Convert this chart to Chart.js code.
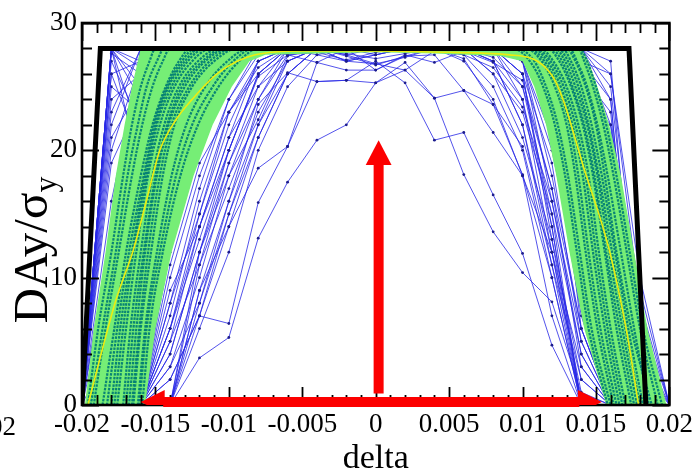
<!DOCTYPE html>
<html>
<head>
<meta charset="utf-8">
<script src="https://cdn.jsdelivr.net/npm/chart.js@4.4.1/dist/chart.umd.min.js"></script>
<style>
  html, body { margin: 0; padding: 0; background: #ffffff; }
  #wrap { width: 697px; height: 471px; }
</style>
</head>
<body>
<div id="wrap"><canvas id="c" width="697" height="471"></canvas></div>
<script>
const _ = null;

// Momentum deviations at which every tracked seed was evaluated
const deltaGrid = [-0.020, -0.018, -0.016, -0.014, -0.012, -0.010, -0.008, -0.006, -0.004, -0.002, 0.000,
                    0.002,  0.004,  0.006,  0.008,  0.010,  0.012,  0.014,  0.016,  0.018, 0.020];

// Dynamic aperture (in sigma_y) per seed, one value per deltaGrid entry
const edgeRuns = [
  [0, 28, 28, 28, 28, 28, 28, 28, 28, 28, 28, 28, 28, 28, 28, 28, 28, 28, 24, 0, _],
  [0, 28, 24, 28, 28, 28, 28, 28, 28, 27.6, 27.2, 27.6, 28, 28, 28, 28, 28, 28, 20, 0, _],
  [0, 27.6, 26, 28, 28, 28, 28, 28, 28, 28, 27.5, 28, 28, 28, 28, 28, 28, 27, 26, 10, 0],
  [0, 28, 21, 27, 28, 28, 28, 28, 27.5, 27, 26.8, 27.3, 28, 28, 28, 28, 28, 28, 16, 0, _],
  [0, 26, 27, 28, 28, 28, 28, 28, 28, 28, 28, 28, 28, 28, 28, 28, 28, 25, 22, 9, 0],
  [0, 28, 18, 25, 28, 28, 28, 28, 28, 27.5, 28, 28, 28, 28, 28, 28, 28, 28, 12, 0, _],
  [0, 22, 28, 28, 28, 28, 28, 28, 28, 28, 28, 28, 28, 28, 28, 28, 28, 28, 27, 0, _],
  [0, 28, 26.5, 28, 28, 28, 28, 27.5, 28, 28, 28, 28, 28, 28, 28, 28, 28, 26, 18, 5, 0],
  [0, 24, 26, 28, 28, 28, 28, 28, 28, 28, 28, 28, 28, 28, 28, 28, 28, 28, 25, 4, 0],
  [0, 27, 22, 28, 28, 28, 28, 28, 28, 28, 28, 28, 28, 28, 28, 28, 28, 27, 14, 0, _],
  [0, 28, 25, 27, 28, 28, 28, 28, 28, 28, 28, 28, 28, 28, 28, 28, 28, 28, 21, 7, 0],
  [0, 20, 27, 28, 28, 28, 28, 28, 28, 28, 28, 28, 28, 28, 28, 28, 28, 28, 19, 0, _],
  [0, 28, 27, 28, 28, 28, 28, 28, 28, 28, 28, 28, 28, 28, 28, 28, 28, 26, 23, 0, _],
  [0, 26, 20, 26, 28, 28, 28, 28, 28, 28, 28, 28, 28, 28, 28, 28, 28, 27, 17, 0, _],
  [0, 16, 27, 28, 28, 28, 28, 28, 28, 28, 28, 28, 28, 28, 28, 28, 28, 28, 22, 0, _],
  [0, 19, 24, 28, 28, 28, 28, 28, 28, 28, 28, 28, 28, 28, 28, 28, 28, 27, 15, 0, _],
  [0, 23, 28, 28, 28, 28, 28, 28, 28, 28, 28, 28, 28, 28, 28, 28, 28, 28, 26, 8, 0],
  [0, 13, 26, 28, 28, 28, 28, 28, 28, 28, 28, 28, 28, 28, 28, 28, 28, 26, 11, 0, _],
  [0, 25, 23, 28, 28, 28, 28, 28, 28, 28, 28, 28, 28, 28, 28, 28, 28, 28, 20, 3, 0],
  [0, 21, 25, 27, 28, 28, 28, 28, 28, 28, 28, 28, 28, 28, 28, 28, 28, 27, 24, 0, _]
];
const steepRuns = [
  [_, 0, 28, 28, 28, 28, 28, 28, 28, 28, 28, 28, 28, 28, 28, 28, 28, 28, 0, _, _],
  [_, 0, 26, 28, 28, 28, 28, 28, 28, 27, 27.5, 28, 28, 28, 28, 28, 28, 27, 3, 0, _],
  [_, 0, 15, 27, 28, 28, 28, 28, 28, 28, 28, 28, 28, 28, 28, 28, 28, 24, 0, _, _],
  [_, 0, 28, 27, 28, 28, 28, 28, 28, 28, 28, 28, 28, 28, 28, 28, 27, 20, 0, _, _],
  [0, 10, 28, 28, 28, 28, 28, 28, 28, 28, 28, 28, 28, 28, 28, 28, 28, 16, 0, _, _],
  [0, 5, 23, 28, 28, 28, 28, 28, 28, 28, 28, 28, 28, 28, 28, 28, 26, 10, 0, _, _],
  [_, 0, 27, 28, 28, 28, 28, 28, 28, 28, 28, 28, 28, 28, 28, 28, 28, 26, 0, _, _],
  [_, 0, 22, 28, 28, 28, 28, 28, 28, 28, 28, 28, 28, 28, 28, 28, 27, 22, 0, _, _],
  [_, 0, 10, 24, 28, 28, 28, 28, 28, 28, 28, 28, 28, 28, 28, 28, 28, 28, 13, 0, _],
  [0, 14, 28, 28, 28, 28, 28, 28, 28, 28, 28, 28, 28, 28, 28, 28, 25, 6, 0, _, _]
];
const slopeRuns = [
  [_, _, 0, 8, 15, 22, 27, 28, 28, 28, 28, 28, 28, 28, 28, 27, 16, 4, 0, _, _],
  [_, _, 0, 6, 13, 20, 26, 28, 28, 27, 27.5, 28, 28, 28, 28, 26, 14, 0, _, _, _],
  [_, _, 0, 10, 18, 24, 27.5, 28, 28, 28, 28, 28, 28, 28, 27, 24, 12, 0, _, _, _],
  [_, _, 0, 5, 11, 17, 23, 27, 28, 28, 28, 28, 28, 28, 26, 21, 13, 2, 0, _, _],
  [_, _, _, 0, 9, 16, 22, 26, 28, 28, 28, 28, 28, 27.5, 25, 20, 10, 0, _, _, _],
  [_, _, 0, 4, 12, 19, 25, 28, 28, 27.4, 26.7, 27.4, 28, 28, 28, 27, 18, 6, 0, _, _],
  [_, _, 0, 2, 7, 14, 21, 26, 28, 28, 28, 28, 28, 28, 28, 28, 22, 8, 0, _, _],
  [_, _, _, 0, 6, 12, 20, 25, 27.5, 28, 28, 28, 28, 27, 24, 18, 7, 0, _, _, _],
  [_, _, 0, 12, 20, 25, 28, 28, 28, 28, 28, 28, 28, 28, 28, 28, 24, 11, 0, _, _],
  [_, _, 0, 9, 14, 21, 25, 27, 28, 28, 28, 28, 28, 28, 27.3, 25, 15, 0, _, _, _],
  [_, _, 0, 3, 10, 18, 24, 28, 28, 28, 28, 28, 28, 28, 28, 26, 19, 5, 0, _, _],
  [_, _, 0, 7, 16, 23, 26.5, 28, 28, 28, 28, 28, 28, 28, 28, 27, 20, 9, 0, _, _],
  [_, _, 0, 11, 19, 23, 26, 28, 28, 28, 28, 28, 28, 28, 27, 22, 11, 0, _, _, _],
  [_, _, 0, 5, 14, 21, 27, 28, 28, 28, 28, 28, 28, 28, 28, 25, 17, 3, 0, _, _],
  [_, _, _, 0, 12, 20, 26, 28, 28, 28, 28, 28, 28, 28, 28, 26, 13, 0, _, _, _],
  [_, _, 0, 8, 17, 24, 28, 28, 28, 28, 28, 28, 28, 28, 26, 23, 15, 4, 0, _, _],
  [_, _, 0, 3, 8, 15, 22, 27, 28, 28, 28, 28, 28, 28, 28, 27, 21, 7, 0, _, _],
  [_, _, 0, 13, 21, 26, 28, 28, 28, 28, 28, 28, 28, 28, 28, 27.5, 23, 9, 0, _, _],
  [_, _, _, 0, 7, 15, 21, 26, 28, 28, 28, 28, 28, 28, 27, 22, 12, 1, 0, _, _],
  [_, _, 0, 6, 15, 23, 27, 28, 28, 28, 28, 28, 28, 28, 28, 24, 14, 0, _, _, _]
];
const innerRuns = [
  [_, _, _, 0, 3.7, 5.3, 13.1, 17.5, 20.8, 22.0, 25.3, 26.3, 24.1, 18.1, 13.6, 10.4, 8.1, 0.9, 0, _, _],
  [_, _, 0, 2, 7.0, 6.4, 15.9, 20.3, 25.4, 25.5, 27.0, 25.3, 20.8, 21.4, 16.5, 11.9, 4.7, 0, _, _, _],
  [_, _, _, 0, 9, 14, 18.6, 20.3, 26.9, 26.3, 26.3, 27.4, 27.5, 24.7, 23.6, 20.3, 11, 2, 0, _, _],
  [_, _, 0, 4, 12, 18, 22.4, 27.4, 28, 27.5, 26.8, 26.3, 27.8, 27.5, 26.5, 23.4, 16, 5, 0, _, _],
  [_, _, _, 0, 8, 16, 23.6, 26.1, 25.4, 25.5, 25.3, 26.9, 24.1, 24.7, 21.4, 18, 12, 3, 0, _, _],
  [_, _, 0, 6, 14, 20, 25.8, 27.5, 26.9, 28, 26.3, 27.5, 26.9, 27.8, 26.9, 25.5, 17, 6, 0, _, _],
  [_, _, _, 0, 11, 19, 24, 27.5, 27.7, 27.1, 27.7, 28, 28, 27.2, 23.6, 18.1, 10, 0, _, _, _]
];

// Band of the smooth aperture curves: sides sampled at common aperture levels
const bandLevels = [0, 6, 12, 18, 22, 25, 27, 28];
const bandOuterLeft  = [-0.0198, -0.0192, -0.0184, -0.0177, -0.0171, -0.0166, -0.0162, -0.0160];
const bandOuterRight = [ 0.0198,  0.0185,  0.0176,  0.0167,  0.0159,  0.0151,  0.0145,  0.0140];
const innerLevels = [0, 6, 12, 18, 22, 25, 27];
const bandInnerLeft  = [-0.0157, -0.0150, -0.0139, -0.0124, -0.0111, -0.0098, -0.0086];
const bandInnerRight = [ 0.0157,  0.0142,  0.0132,  0.0123,  0.0116,  0.0108,  0.0100];
const crestDelta = [0.0085, 0.0040, 0.0000, -0.0040, -0.0075];
const crestDay   = [27.4, 27.6, 27.7, 27.6, 27.5];

// Individual smooth curves (left flank and right flank, at bandLevels)
const curveLeft = [
  [-0.0196, -0.0189, -0.0180, -0.0172, -0.0166, -0.0160, -0.0154, -0.0150],
  [-0.0194, -0.0186, -0.0177, -0.0169, -0.0162, -0.0156, -0.0149, -0.0144],
  [-0.0192, -0.0184, -0.0175, -0.0166, -0.0159, -0.0152, -0.0145, -0.0140],
  [-0.0186, -0.0178, -0.0170, -0.0160, -0.0152, -0.0143, -0.0134, -0.0126],
  [-0.0183, -0.0176, -0.0168, -0.0158, -0.0151, -0.0142, -0.0132, -0.0123],
  [-0.0180, -0.0174, -0.0166, -0.0157, -0.0150, -0.0141, -0.0130, -0.0120],
  [-0.0178, -0.0172, -0.0165, -0.0156, -0.0149, -0.0139, -0.0128, -0.0116],
  [-0.0176, -0.0170, -0.0163, -0.0155, -0.0147, -0.0137, -0.0125, -0.0112],
  [-0.0172, -0.0167, -0.0160, -0.0152, -0.0144, -0.0134, -0.0121, -0.0106],
  [-0.0170, -0.0165, -0.0158, -0.0150, -0.0142, -0.0132, -0.0118, -0.0103],
  [-0.0168, -0.0163, -0.0157, -0.0149, -0.0141, -0.0130, -0.0116, -0.0100],
  [-0.0166, -0.0161, -0.0155, -0.0147, -0.0139, -0.0127, -0.0113, -0.0097],
  [-0.0165, -0.0160, -0.0153, -0.0145, -0.0137, -0.0125, -0.0110, -0.0094],
  [-0.0162, -0.0157, -0.0149, -0.0139, -0.0129, -0.0116, -0.0101, -0.0086],
  [-0.0161, -0.0156, -0.0147, -0.0136, -0.0125, -0.0111, -0.0097, -0.0083],
  [-0.0159, -0.0154, -0.0145, -0.0133, -0.0121, -0.0107, -0.0093, -0.0080]
];
const curveRight = [
  [0.0192, 0.0180, 0.0171, 0.0162, 0.0155, 0.0148, 0.0142, 0.0138],
  [0.0195, 0.0182, 0.0173, 0.0164, 0.0157, 0.0150, 0.0144, 0.0139],
  [0.0186, 0.0176, 0.0167, 0.0158, 0.0151, 0.0144, 0.0137, 0.0132],
  [0.0182, 0.0172, 0.0163, 0.0154, 0.0147, 0.0140, 0.0133, 0.0127],
  [0.0180, 0.0170, 0.0161, 0.0152, 0.0145, 0.0138, 0.0131, 0.0124],
  [0.0178, 0.0168, 0.0159, 0.0151, 0.0144, 0.0136, 0.0129, 0.0122],
  [0.0176, 0.0166, 0.0157, 0.0149, 0.0142, 0.0134, 0.0127, 0.0119],
  [0.0174, 0.0164, 0.0156, 0.0148, 0.0141, 0.0133, 0.0125, 0.0117],
  [0.0170, 0.0160, 0.0152, 0.0145, 0.0138, 0.0130, 0.0121, 0.0112],
  [0.0168, 0.0158, 0.0150, 0.0143, 0.0136, 0.0128, 0.0119, 0.0109],
  [0.0166, 0.0156, 0.0148, 0.0141, 0.0134, 0.0126, 0.0117, 0.0107],
  [0.0164, 0.0153, 0.0145, 0.0138, 0.0132, 0.0124, 0.0115, 0.0104],
  [0.0162, 0.0151, 0.0143, 0.0136, 0.0130, 0.0122, 0.0113, 0.0102],
  [0.0188, 0.0174, 0.0164, 0.0156, 0.0150, 0.0143, 0.0136, 0.0130],
  [0.0158, 0.0145, 0.0137, 0.0129, 0.0122, 0.0114, 0.0105, 0.0093],
  [0.0160, 0.0147, 0.0139, 0.0131, 0.0124, 0.0116, 0.0108, 0.0096]
];

// Mean aperture curve
const meanDelta = [-0.0196, -0.0177, -0.0165, -0.0156, -0.0147, -0.0136, -0.0125, -0.0107, -0.0082, -0.0050,
                    0.0000,  0.0050,  0.0091,  0.0120,  0.0144,  0.0159,  0.0171,  0.0179];
const meanDay   = [0, 8.2, 12.2, 16.1, 20.0, 22.4, 24.0, 26.1, 27.5, 27.8, 27.8, 27.7, 27.5, 25.9, 17.8, 12.2, 5.7, 0];

// Physical aperture limit
const limitDelta = [-0.0200, -0.01875, 0.01725, 0.0184];
const limitDay   = [0, 28, 28, 0];

// Arrows: vertical one at upArrowDelta, horizontal one at sideArrowDay
const upArrowDelta = 0.0002;
const upArrowDay = [0.9, 20.8];
const sideArrowDay = 0.24;
const sideArrowDelta = [-0.0160, 0.0154];
const headLenDay = 1.95, headHalfDelta = 0.00088;
const headLenDelta = 0.00163, headHalfDay = 0.94;

// Axes
const xTickValues = [-0.02, -0.015, -0.01, -0.005, 0, 0.005, 0.01, 0.015, 0.02];
const xTickLabels = ['-0.02', '-0.015', '-0.01', '-0.005', '0', '0.005', '0.01', '0.015', '0.02'];
const yTickValues = [0, 10, 20, 30];
const yTickLabels = ['0', '10', '20', '30'];
const neighbourLabel = '0.02';

const SERIF = '"Liberation Serif", "Times New Roman", serif';

function points(xs, ys) {
  return xs.map((x, i) => ({ x, y: ys[i] })).filter(p => p.y !== null);
}

const datasets = [];

// seeds (drawn first, underneath)
[...edgeRuns, ...steepRuns, ...slopeRuns, ...innerRuns].forEach(run => {
  datasets.push({
    data: points(deltaGrid, run),
    borderColor: 'rgba(40,40,230,0.8)',
    borderWidth: 1,
    pointRadius: 1.4,
    pointBorderWidth: 0,
    pointBackgroundColor: '#1c1c8c',
    tension: 0,
    fill: false,
    order: 6
  });
});

// filled band of the smooth curves
const bandPts = [
  ...points(bandOuterLeft, bandLevels),
  ...points(bandOuterRight, bandLevels).reverse(),
  ...points(bandInnerRight, innerLevels),
  ...points(crestDelta, crestDay),
  ...points(bandInnerLeft, innerLevels).reverse()
];
datasets.push({
  data: bandPts,
  borderWidth: 0,
  borderColor: 'rgba(0,0,0,0)',
  backgroundColor: 'rgb(118,238,118)',
  pointRadius: 0,
  tension: 0,
  fill: 'shape',
  order: 5
});

// individual smooth curves
curveLeft.forEach((left, k) => {
  const right = curveRight[k];
  datasets.push({
    data: [...points(left, bandLevels), ...points(right, bandLevels).reverse()],
    borderColor: 'rgba(0,124,116,0.92)',
    borderWidth: 2.2,
    borderDash: [2.5, 1.2],
    pointRadius: 0,
    cubicInterpolationMode: 'monotone',
    fill: false,
    order: 4
  });
});

// mean curve
datasets.push({
  data: points(meanDelta, meanDay),
  borderColor: 'rgb(236,236,16)',
  borderWidth: 1.6,
  pointRadius: 0,
  cubicInterpolationMode: 'monotone',
  fill: false,
  order: 3
});

// aperture limit
datasets.push({
  role: 'limit',
  data: points(limitDelta, limitDay),
  borderColor: '#000000',
  borderWidth: 5,
  borderJoinStyle: 'miter',
  pointRadius: 0,
  tension: 0,
  fill: false,
  order: 2
});

// arrows
const RED = 'rgb(252,0,0)';
function shaft(xs, ys) {
  return { data: points(xs, ys), borderColor: RED, borderWidth: 10, borderCapStyle: 'butt',
           pointRadius: 0, tension: 0, fill: false, clip: false, order: 1 };
}
function head(xs, ys) {
  return { data: points(xs, ys), borderWidth: 0, borderColor: RED, backgroundColor: RED,
           pointRadius: 0, tension: 0, fill: 'shape', clip: false, order: 0 };
}
const upTip = upArrowDay[1];
datasets.push(shaft([upArrowDelta, upArrowDelta], [upArrowDay[0], upTip - headLenDay + 0.2]));
datasets.push(head([upArrowDelta - headHalfDelta, upArrowDelta, upArrowDelta + headHalfDelta],
                   [upTip - headLenDay, upTip, upTip - headLenDay]));
const [lTip, rTip] = sideArrowDelta;
datasets.push(shaft([lTip + headLenDelta - 0.0001, rTip - headLenDelta + 0.0001], [sideArrowDay, sideArrowDay]));
datasets.push(head([lTip + headLenDelta, lTip, lTip + headLenDelta],
                   [sideArrowDay + headHalfDay, sideArrowDay, sideArrowDay - headHalfDay]));
datasets.push(head([rTip - headLenDelta, rTip, rTip - headLenDelta],
                   [sideArrowDay + headHalfDay, sideArrowDay, sideArrowDay - headHalfDay]));

// frame with inward ticks on all four sides, drawn above the curves but under the arrows
function drawFrame(chart) {
  const { ctx, chartArea: a, scales: { x, y } } = chart;
  ctx.save();
  ctx.strokeStyle = '#000';
  ctx.lineWidth = 1.8;
  ctx.beginPath();
  for (let i = -20; i <= 20; i++) {
    const px = Math.round(x.getPixelForValue(i / 1000)) + 0.5;
    const len = i % 5 === 0 ? 18 : 10;
    ctx.moveTo(px, a.bottom); ctx.lineTo(px, a.bottom - len);
    ctx.moveTo(px, a.top); ctx.lineTo(px, a.top + len);
  }
  for (let j = 0; j <= 30; j += 2) {
    const py = Math.round(y.getPixelForValue(j)) + 0.5;
    const len = j % 10 === 0 ? 17 : 10;
    ctx.moveTo(a.left, py); ctx.lineTo(a.left + len, py);
    ctx.moveTo(a.right, py); ctx.lineTo(a.right - len, py);
  }
  ctx.stroke();
  ctx.lineWidth = 2.6;
  ctx.strokeRect(a.left, a.top, a.right - a.left, a.bottom - a.top);
  ctx.restore();
}

const framePlugin = {
  id: 'frameAndTitles',
  afterDatasetDraw(chart, args) {
    if (chart.data.datasets[args.index].role === 'limit') drawFrame(chart);
  },
  afterDraw(chart) {
    const { ctx, chartArea: a } = chart;
    ctx.save();
    ctx.fillStyle = '#000';
    // x title
    ctx.font = '34px ' + SERIF;
    ctx.textAlign = 'center';
    ctx.textBaseline = 'alphabetic';
    ctx.fillText('delta', (a.left + a.right) / 2, 468);
    // tick label of the neighbouring panel, cut by the edge
    ctx.font = '27px ' + SERIF;
    ctx.textAlign = 'right';
    ctx.fillText(neighbourLabel, 16, 435);
    // y title with subscript
    ctx.translate(47, 250);
    ctx.rotate(-Math.PI / 2);
    ctx.textAlign = 'left';
    const main = 'DAy/σ', sub = 'y';
    ctx.font = '49px ' + SERIF;
    const wMain = ctx.measureText(main).width;
    ctx.font = '32px ' + SERIF;
    const wSub = ctx.measureText(sub).width;
    const start = -(wMain + wSub) / 2;
    ctx.font = '49px ' + SERIF;
    ctx.fillText(main, start, 0);
    ctx.font = '32px ' + SERIF;
    ctx.fillText(sub, start + wMain, 9);
    ctx.restore();
  }
};

new Chart(document.getElementById('c'), {
  type: 'line',
  data: { datasets },
  options: {
    responsive: false,
    animation: false,
    devicePixelRatio: 1,
    layout: { padding: { left: 0, right: 25, top: 23, bottom: 0 } },
    plugins: { legend: { display: false }, tooltip: { enabled: false } },
    scales: {
      x: {
        type: 'linear', min: -0.02, max: 0.02,
        afterBuildTicks: s => { s.ticks = xTickValues.map(value => ({ value })); },
        afterFit: s => { s.height = 66; },
        grid: { display: false, drawTicks: false },
        border: { display: false },
        ticks: {
          callback: (v, i) => xTickLabels[i],
          font: { family: SERIF, size: 27 }, color: '#000',
          padding: 4, maxRotation: 0, autoSkip: false
        }
      },
      y: {
        type: 'linear', min: 0, max: 30,
        afterBuildTicks: s => { s.ticks = yTickValues.map(value => ({ value })); },
        afterFit: s => { s.width = 82; },
        grid: { display: false, drawTicks: false },
        border: { display: false },
        ticks: {
          callback: (v, i) => yTickLabels[i],
          font: { family: SERIF, size: 27 }, color: '#000',
          padding: 5, autoSkip: false
        }
      }
    }
  },
  plugins: [framePlugin]
});
</script>
</body>
</html>
